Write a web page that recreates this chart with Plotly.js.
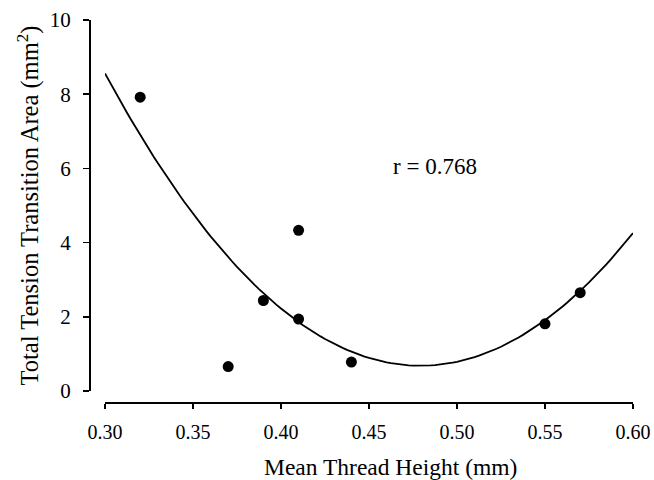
<!DOCTYPE html>
<html>
<head>
<meta charset="utf-8">
<script src="https://cdn.plot.ly/plotly-3.0.1.min.js"></script>
<style>html,body{margin:0;padding:0;background:#fff;}#chart{width:654px;height:480px;}</style>
</head>
<body>
<div id="chart"></div>
<script>
// Data
var threadHeight = [0.32, 0.37, 0.39, 0.41, 0.41, 0.44, 0.55, 0.57];
var transitionArea = [7.92, 0.66, 2.44, 1.94, 4.33, 0.78, 1.81, 2.65];
var xTickVals = [0.30, 0.35, 0.40, 0.45, 0.50, 0.55, 0.60];
var xTickText = ["0.30", "0.35", "0.40", "0.45", "0.50", "0.55", "0.60"];
var yTickVals = [0, 2, 4, 6, 8, 10];
var xTitle = "Mean Thread Height (mm)";
var yTitle = "Total Tension Transition Area (mm<sup>2</sup>)";
var rLabel = "r = 0.768";

// Least-squares quadratic fit of the data (the curve drawn in the chart)
function quadFit(xs, ys) {
  var n = xs.length, s = [0,0,0,0,0], t = [0,0,0];
  for (var i = 0; i < n; i++) {
    var p = 1;
    for (var k = 0; k < 5; k++) { s[k] += p; if (k < 3) t[k] += p * ys[i]; p *= xs[i]; }
  }
  var A = [[s[0], s[1], s[2], t[0]], [s[1], s[2], s[3], t[1]], [s[2], s[3], s[4], t[2]]];
  for (var c = 0; c < 3; c++) {
    for (var r = c + 1; r < 3; r++) {
      var f = A[r][c] / A[c][c];
      for (var j = c; j < 4; j++) A[r][j] -= f * A[c][j];
    }
  }
  var co = [0,0,0];
  for (var r2 = 2; r2 >= 0; r2--) {
    var v = A[r2][3];
    for (var j2 = r2 + 1; j2 < 3; j2++) v -= A[r2][j2] * co[j2];
    co[r2] = v / A[r2][r2];
  }
  return co;
}
var co = quadFit(threadHeight, transitionArea);
var fitX = [], fitY = [];
for (var i = 0; i <= 120; i++) {
  var xv = 0.30 + i * 0.0025;
  fitX.push(xv);
  fitY.push(co[0] + co[1] * xv + co[2] * xv * xv);
}

var font = "Liberation Serif, Times New Roman, serif";

var traces = [
  {x: fitX, y: fitY, mode: "lines", type: "scatter", line: {color: "#000", width: 1.8}, hoverinfo: "skip", showlegend: false},
  {x: threadHeight, y: transitionArea, mode: "markers", type: "scatter", marker: {color: "#000", size: 11}, showlegend: false}
];

var layout = {
  width: 654, height: 480,
  margin: {l: 90, r: 21, t: 20, b: 77, pad: 0},
  paper_bgcolor: "#fff", plot_bgcolor: "#fff",
  font: {family: font, color: "#000", size: 20},
  showlegend: false,
  xaxis: {
    domain: [0.0276, 1], range: [0.30, 0.60], anchor: "free", position: 0,
    tickvals: xTickVals, ticktext: xTickText,
    ticks: "outside", ticklen: 5, tickwidth: 1.5, tickcolor: "#000",
    showline: true, linecolor: "#000", linewidth: 2,
    showgrid: false, zeroline: false, ticklabelstandoff: 6,
    tickfont: {family: font, size: 20, color: "#000"}
  },
  yaxis: {
    domain: [0.0313, 1], range: [0, 10], anchor: "free", position: 0,
    tickvals: yTickVals,
    ticks: "outside", ticklen: 6, tickwidth: 1.5, tickcolor: "#000",
    showline: true, linecolor: "#000", linewidth: 2,
    showgrid: false, zeroline: false, ticklabelstandoff: 8,
    tickfont: {family: font, size: 21, color: "#000"},
    title: {text: yTitle, font: {family: font, size: 24.5, color: "#000"}, standoff: 3}
  },
  annotations: [{
    x: 0.4875, y: 6.05, xref: "x", yref: "y", text: rLabel, showarrow: false,
    font: {family: font, size: 23, color: "#000"}, xanchor: "center", yanchor: "middle"
  }, {
    x: 0.5543, y: -0.167, xref: "paper", yref: "paper", text: xTitle, showarrow: false,
    font: {family: font, size: 23.5, color: "#000"}, xanchor: "center", yanchor: "middle"
  }]
};

Plotly.newPlot("chart", traces, layout, {staticPlot: true, displayModeBar: false});
</script>
</body>
</html>
